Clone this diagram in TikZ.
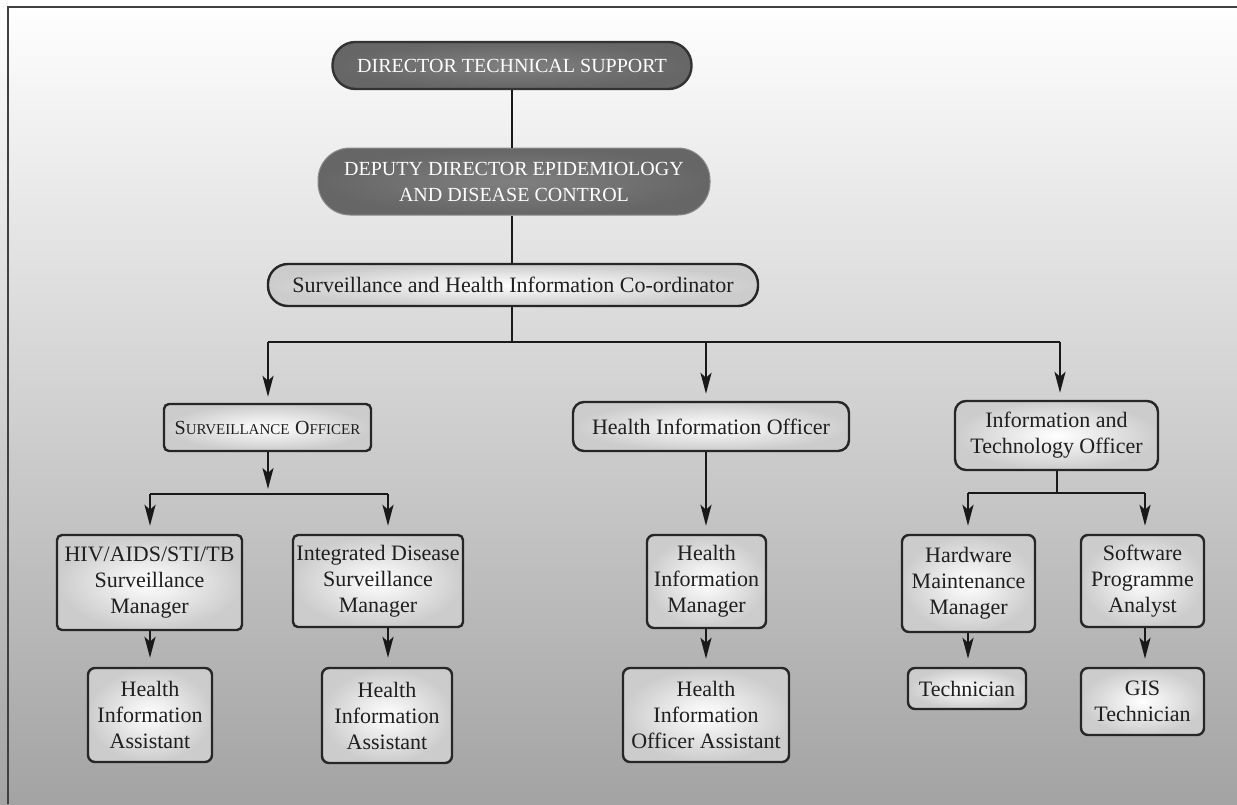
\documentclass[tikz,border=0pt]{standalone}
\usepackage{fontspec}
\setmainfont{Liberation Serif}
\usetikzlibrary{arrows.meta}
\newcommand\mainfs{\fontsize{22}{26}\selectfont}
\newcommand\capsfs{\fontsize{20}{26}\selectfont}
\newcommand\fakesc[2]{{\fontsize{20}{26}\selectfont #1}{\fontsize{15}{26}\selectfont #2}}
\begin{document}
\begin{tikzpicture}[x=1pt,y=-1pt,
  lightbox/.style={draw=black!85, line width=2.4pt, rounded corners=7pt,
    inner color=white, outer color=black!20, text=black!88, align=center,
    font=\mainfs, inner sep=0pt},
  pillbox/.style={lightbox, rounded corners=20pt},
  darkbox/.style={draw=black!80, line width=2.4pt, rounded corners=23pt,
    inner color=black!50, outer color=black!60, text=white, align=center,
    font=\capsfs, inner sep=0pt},
  ln/.style={line width=2.4pt, draw=black!90},
  arr/.style={ln, -{Stealth[length=21pt,width=11pt,inset=5pt]}},
]
\useasboundingbox (0,0) rectangle (1237,804);
\shade[top color=white, middle color=black!15, bottom color=black!36] (0,0) rectangle (1237,804);
\draw[line width=1.5pt, black!75] (8,804) -- (8,7) -- (1237,7);

% nodes
\node[darkbox, minimum width=359pt, minimum height=47pt] (dts) at (512,65.5) {DIRECTOR TECHNICAL SUPPORT};
\node[darkbox, draw=black!45, line width=1pt, rounded corners=32pt, minimum width=392pt, minimum height=67pt] (ddc) at (514,181.5) {DEPUTY DIRECTOR EPIDEMIOLOGY\\AND DISEASE CONTROL};
\node[pillbox, minimum width=490pt, minimum height=42pt] (shic) at (513,285) {Surveillance and Health Information Co-ordinator};

\node[lightbox, rounded corners=5pt, minimum width=207pt, minimum height=47pt] (so) at (267.5,427.5) {\fakesc{S}{URVEILLANCE} \fakesc{O}{FFICER}};
\node[lightbox, rounded corners=11pt, minimum width=276pt, minimum height=49pt] (hio) at (711,426.5) {Health Information Officer};
\node[lightbox, rounded corners=11pt, minimum width=203pt, minimum height=69pt] (ito) at (1056.5,435.5) {Information and\\Technology Officer};

\node[lightbox, rounded corners=5pt, minimum width=185pt, minimum height=95pt] (hiv) at (149.5,582.5) {HIV/AIDS/STI/TB\\Surveillance\\Manager};
\node[lightbox, rounded corners=5pt, minimum width=170pt, minimum height=92pt] (ids) at (378,581) {Integrated Disease\\Surveillance\\Manager};
\node[lightbox, minimum width=124pt, minimum height=94pt] (hia1) at (150,715) {Health\\Information\\Assistant};
\node[lightbox, minimum width=130pt, minimum height=95pt] (hia2) at (387,715.5) {Health\\Information\\Assistant};

\node[lightbox, minimum width=119pt, minimum height=93pt] (him) at (706.5,581.5) {Health\\Information\\Manager};
\node[lightbox, minimum width=166pt, minimum height=94pt] (hioa) at (706,715) {Health\\Information\\Officer Assistant};

\node[lightbox, minimum width=133pt, minimum height=97pt] (hmm) at (968.5,583.5) {Hardware\\Maintenance\\Manager};
\node[lightbox, minimum width=123pt, minimum height=92pt] (spa) at (1142.5,581) {Software\\Programme\\Analyst};
\node[lightbox, minimum width=118pt, minimum height=41pt] (tech) at (967,688.5) {Technician};
\node[lightbox, minimum width=123pt, minimum height=67pt] (gis) at (1142.5,701.5) {GIS\\Technician};

% junctions
\coordinate (bM) at (512,342);
\coordinate (bL) at (268,342);
\coordinate (bC) at (706,342);
\coordinate (bR) at (1060,342);
\coordinate (sM) at (268,494);
\coordinate (sL) at (150,494);
\coordinate (sR) at (388,494);
\coordinate (iM) at (1057,493);
\coordinate (iL) at (968,493);
\coordinate (iR) at (1145,493);

% connectors
\draw[ln] (dts.south) -- (dts.south |- ddc.north);
\draw[ln] (ddc.south -| dts.south) -- (shic.north -| dts.south);
\draw[ln] (shic.south -| bM) -- (bM);
\draw[ln] (bL) -- (bR);
\draw[arr, shorten >=6pt] (bL) -- (bL |- so.north);
\draw[arr, shorten >=7pt] (bC) -- (bC |- hio.north);
\draw[arr, shorten >=7pt] (bR) -- (bR |- ito.north);

\draw[arr, shorten >=5pt] (so.south -| sM) -- (sM);
\draw[ln] (sL) -- (sR);
\draw[arr, shorten >=8pt] (sL) -- (sL |- hiv.north);
\draw[arr, shorten >=8pt] (sR) -- (sR |- ids.north);
\draw[arr, shorten >=9pt] (hiv.south -| sL) -- (hia1.north -| sL);
\draw[arr, shorten >=9pt] (ids.south -| sR) -- (hia2.north -| sR);

\draw[arr, shorten >=8pt] (hio.south -| bC) -- (him.north -| bC);
\draw[arr, shorten >=8pt] (him.south -| bC) -- (hioa.north -| bC);

\draw[ln] (ito.south -| iM) -- (iM);
\draw[ln] (iL) -- (iR);
\draw[arr, shorten >=8pt] (iL) -- (iL |- hmm.north);
\draw[arr, shorten >=8pt] (iR) -- (iR |- spa.north);
\draw[arr, shorten >=8pt] (hmm.south -| iL) -- (tech.north -| iL);
\draw[arr, shorten >=8pt] (spa.south -| iR) -- (gis.north -| iR);
\end{tikzpicture}
\end{document}
